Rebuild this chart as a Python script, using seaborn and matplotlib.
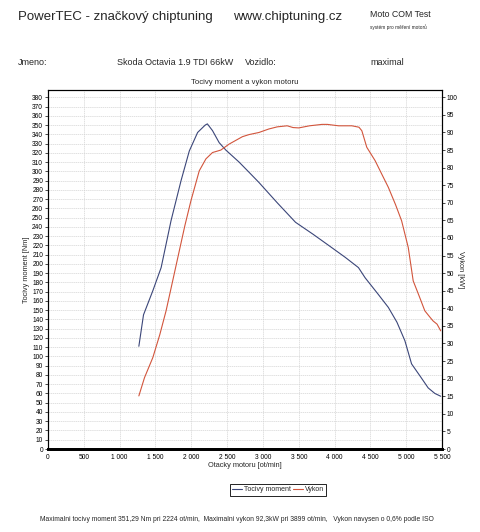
import numpy as np
import pandas as pd
import matplotlib
matplotlib.use("Agg")
import matplotlib.pyplot as plt
import seaborn as sns
from matplotlib.ticker import MultipleLocator, FuncFormatter
from matplotlib.lines import Line2D

# torque curve
torque_rpm = [1268, 1333, 1463, 1579, 1718, 1857, 1972, 2088, 2194, 2224, 2296, 2389,
              2482, 2667, 2806, 2944, 3200, 3454, 3700, 3917, 4150, 4333, 4426, 4600,
              4750, 4870, 4981, 5074, 5200, 5306, 5400, 5481]
torque_nm = [111, 145, 171, 196, 247, 290, 322, 342, 350, 351.3, 344, 331,
             323, 310, 299, 288, 266, 245, 232, 220, 207, 196, 185, 168,
             153, 137, 117, 92, 78, 66, 60, 57]

# power curve
power_rpm = [1268, 1347, 1463, 1560, 1648, 1740, 1833, 1910, 1995, 2111, 2204, 2296,
             2412, 2528, 2713, 2806, 2944, 3083, 3200, 3338, 3420, 3500, 3650, 3824,
             3899, 4056, 4241, 4340, 4380, 4449, 4565, 4650, 4750, 4850, 4935, 5028,
             5097, 5180, 5259, 5330, 5375, 5430, 5481]
power_kw = [15.1, 20.3, 26.0, 32.5, 39.3, 47.8, 56.4, 63.5, 70.6, 79.1, 82.5, 84.3,
            85.0, 86.7, 88.8, 89.4, 90.0, 91.0, 91.6, 91.9, 91.4, 91.3, 91.9, 92.3,
            92.3, 91.9, 91.9, 91.5, 90.5, 85.8, 82.0, 78.5, 74.4, 69.5, 64.9, 57.3,
            47.8, 43.5, 39.3, 37.5, 36.4, 35.5, 33.6]

df_t = pd.DataFrame({'rpm': torque_rpm, 'nm': torque_nm})
df_p = pd.DataFrame({'rpm': power_rpm, 'kw': power_kw})

sns.set_theme(style="white")
plt.rcParams['font.family'] = ['Liberation Sans', 'DejaVu Sans']

col_t = '#3b4679'
col_p = '#d2553c'

fig = plt.figure(figsize=(4.8, 5.32), dpi=100)

ax = fig.add_axes([0.1, 0.156, 0.821, 0.675])
ax2 = ax.twinx()

sns.lineplot(data=df_t, x='rpm', y='nm', ax=ax, color=col_t, linewidth=0.8)
sns.lineplot(data=df_p, x='rpm', y='kw', ax=ax2, color=col_p, linewidth=0.8)

ax.set_xlim(0, 5500)
ax.set_ylim(0, 388)
ax2.set_ylim(0, 388 / 3.8)

ax.xaxis.set_major_locator(MultipleLocator(500))
ax.xaxis.set_major_formatter(FuncFormatter(lambda v, p: f"{int(v):,}".replace(',', ' ')))
ax.yaxis.set_major_locator(MultipleLocator(10))
ax2.set_yticks(np.arange(0, 101, 5))

ax.grid(True, color='#d4d4d4', linewidth=0.5, linestyle=(0, (2, 1)))
ax.set_axisbelow(True)

for a in (ax, ax2):
    for s in a.spines.values():
        s.set_color('black')
        s.set_linewidth(0.8)
    a.spines['bottom'].set_linewidth(2)
ax.tick_params(axis='both', labelsize=4.8, length=2, width=0.5, pad=1.5, colors='black')
ax2.tick_params(axis='y', labelsize=4.8, length=2, width=0.5, pad=1.5, colors='black')

ax.set_xlabel('Otacky motoru [ot/min]', fontsize=5.3)
ax.xaxis.set_label_coords(0.5, -0.035)
ax.set_ylabel('Tocivy moment [Nm]', fontsize=5.3)
ax.yaxis.set_label_coords(-0.045, 0.5)
ax2.set_ylabel('Vykon [kW]', fontsize=5.3, rotation=270, va='bottom')
ax2.yaxis.set_label_coords(1.037, 0.5)
ax.set_title('Tocivy moment a vykon motoru', fontsize=5.6, pad=4)

handles = [Line2D([], [], color=col_t, lw=0.8), Line2D([], [], color=col_p, lw=0.8)]
leg = fig.legend(handles, ['Tocivy moment', 'Vykon'], loc='center',
                 bbox_to_anchor=(0.579, 0.079), ncol=2, fontsize=5,
                 frameon=True, fancybox=False, edgecolor='black', framealpha=1,
                 handlelength=1.4, handletextpad=0.3, columnspacing=0.3,
                 borderpad=0.35, borderaxespad=0)
leg.get_frame().set_linewidth(0.6)

# header texts
fig.text(0.038, 0.968, 'PowerTEC - značkový chiptuning', fontsize=9.5, va='center')
fig.text(0.485, 0.968, 'www.chiptuning.cz', fontsize=9.5, va='center')
fig.text(0.771, 0.972, 'Moto COM Test', fontsize=6.3, va='center')
fig.text(0.771, 0.948, 'systém pro měření motorů', fontsize=3.4, va='center')
fig.text(0.038, 0.882, 'Jmeno:', fontsize=6.5, va='center')
fig.text(0.243, 0.882, 'Skoda Octavia 1.9 TDI 66kW', fontsize=6.5, va='center')
fig.text(0.51, 0.882, 'Vozidlo:', fontsize=6.5, va='center')
fig.text(0.771, 0.882, 'maximal', fontsize=6.5, va='center')

fig.text(0.083, 0.023, 'Maximalni tocivy moment 351,29 Nm pri 2224 ot/min,  '
         'Maximalni vykon 92,3kW pri 3899 ot/min,   Vykon navysen o 0,6% podle ISO',
         fontsize=4.9, va='center')

fig.savefig('out.png', dpi=100)
